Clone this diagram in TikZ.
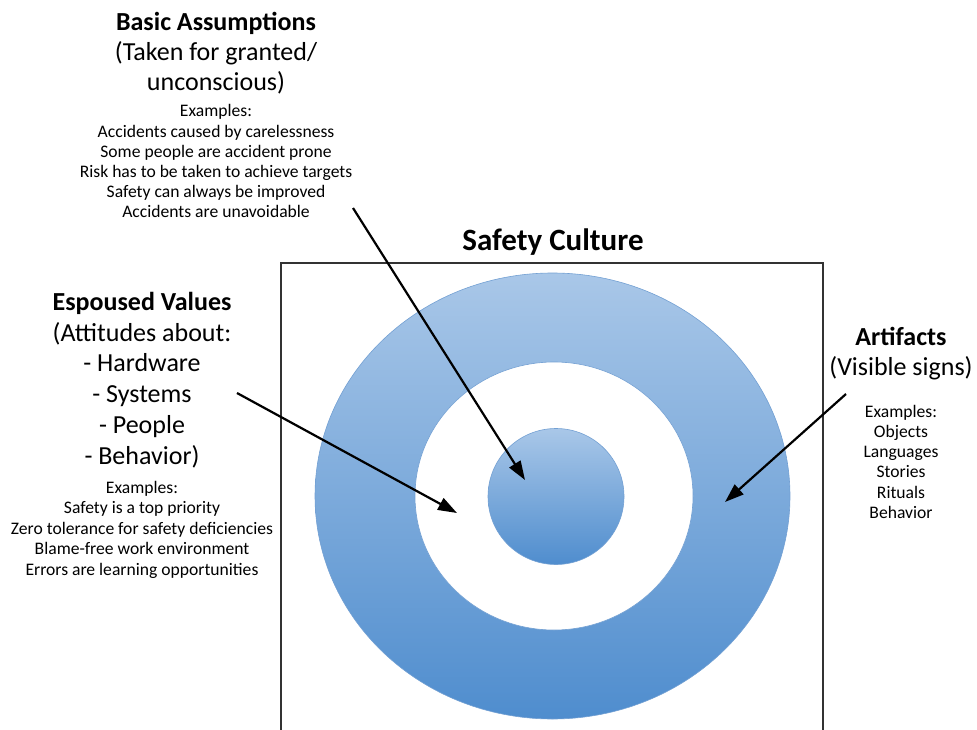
\documentclass[tikz,border=0pt]{standalone}
\usepackage{fontspec}
\setmainfont{Carlito}
\usetikzlibrary{arrows.meta}
\definecolor{ctop}{HTML}{A9C7E8}
\definecolor{cbot}{HTML}{4F8DCE}
\definecolor{cedge}{HTML}{73A0D3}
\begin{document}
\begin{tikzpicture}[x=1pt,y=-1pt,
  headtxt/.style={font=\bfseries\fontsize{26}{30}\selectfont, anchor=base, inner sep=0pt},
  bigtitle/.style={font=\bfseries\fontsize{31}{36}\selectfont, anchor=base, inner sep=0pt},
  subtxt/.style={font=\fontsize{26}{30}\selectfont, anchor=base, inner sep=0pt},
  smalltxt/.style={font=\fontsize{17.6}{20}\selectfont, anchor=base, inner sep=0pt},
  arr/.style={line width=2.2pt, -{Triangle[length=19pt,width=13pt]}},
  ringfill/.style={top color=ctop, bottom color=cbot, draw=cedge, line width=0.6pt}]
\useasboundingbox (0,0) rectangle (977,730);
\clip (0,0) rectangle (977,730);
% frame
\draw[line width=1.3pt, draw=black!80] (281,263) rectangle (823,740);
% rings
\shade[ringfill] (552.5,496) ellipse [x radius=237.5pt, y radius=223pt];
\filldraw[fill=white, draw=cedge, line width=0.6pt] (554,496) ellipse [x radius=139pt, y radius=134pt];
\shade[ringfill] (556,496.5) circle [radius=68pt];
% title
\node[bigtitle] (title) at (553,251) {Safety Culture};
% basic assumptions
\node[headtxt] (ba1) at (216,31) {Basic Assumptions};
\node[subtxt] (ba2) at (216,61) {(Taken for granted/};
\node[subtxt] (ba3) at (216,91) {unconscious)};
\foreach \t [count=\i] in {{Examples:},{Accidents caused by carelessness},{Some people are accident prone},{Risk has to be taken to achieve targets},{Safety can always be improved},{Accidents are unavoidable}}
  \node[smalltxt] (bae\i) at (216,{117+20.2*(\i-1)}) {\t};
% espoused values
\node[headtxt] (ev1) at (142,310) {Espoused Values};
\foreach \t [count=\i] in {{(Attitudes about:},{- Hardware},{- Systems},{- People},{- Behavior)}}
  \node[subtxt] (evs\i) at (142,{341+30.8*(\i-1)}) {\t};
\foreach \t [count=\i] in {{Examples:},{Safety is a top priority},{Zero tolerance for safety deficiencies},{Blame-free work environment},{Errors are learning opportunities}}
  \node[smalltxt] (eve\i) at (142,{493+20.5*(\i-1)}) {\t};
% artifacts
\node[headtxt] (ar1) at (901,345) {Artifacts};
\node[subtxt] (ar2) at (901,375) {(Visible signs)};
\foreach \t [count=\i] in {{Examples:},{Objects},{Languages},{Stories},{Rituals},{Behavior}}
  \node[smalltxt] (are\i) at (901,{417+20.3*(\i-1)}) {\t};
% arrows
\coordinate (baS) at (353,208);
\coordinate (baT) at (525,480);
\coordinate (evS) at (237,393);
\coordinate (evT) at (457,513);
\coordinate (arS) at (846,394);
\coordinate (arT) at (725,502);
\draw[arr] (baS) -- (baT);
\draw[arr] (evS) -- (evT);
\draw[arr] (arS) -- (arT);
\end{tikzpicture}
\end{document}
